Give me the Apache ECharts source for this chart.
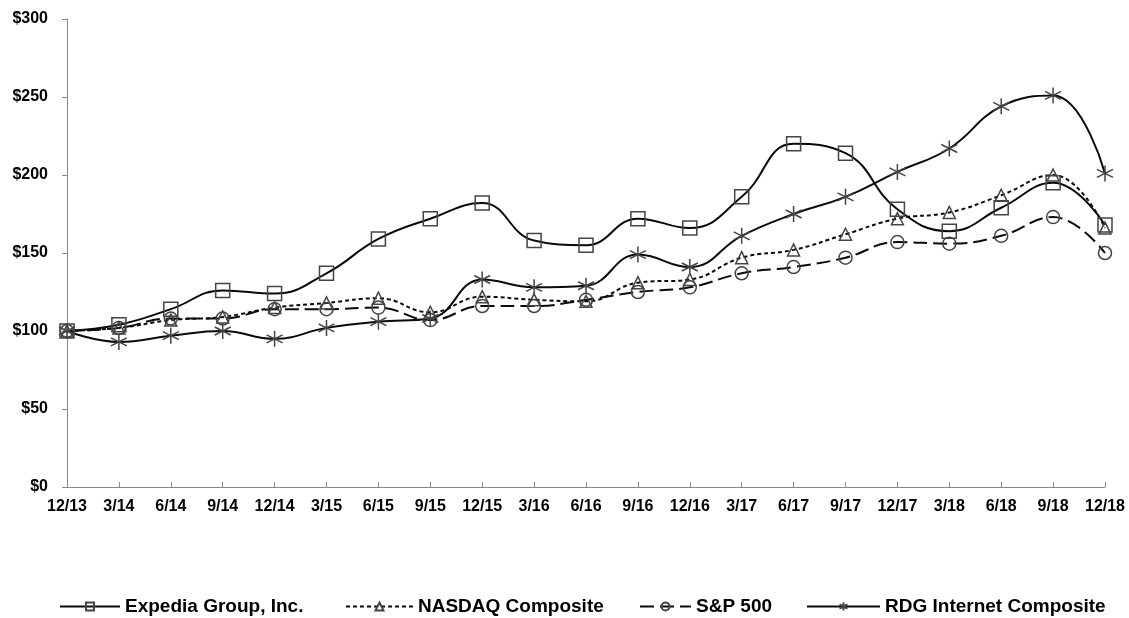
<!DOCTYPE html>
<html>
<head>
<meta charset="utf-8">
<script src="https://cdn.jsdelivr.net/npm/echarts@6/dist/echarts.min.js"></script>
<style>
html,body{margin:0;padding:0;background:#fff;}
#chart{width:1129px;height:618px;}
</style>
</head>
<body>
<div id="chart"></div>
<script>
const categories = ['12/13','3/14','6/14','9/14','12/14','3/15','6/15','9/15','12/15','3/16','6/16','9/16','12/16','3/17','6/17','9/17','12/17','3/18','6/18','9/18','12/18'];
const expedia = [100,104,114,126,124,137,159,172,182,158,155,172,166,186,220,214,178,164,179,195,168];
const nasdaq  = [100,102,107,109,115,118,121,112,122,120,119,131,133,147,152,162,172,176,187,200,166];
const sp500   = [100,102,108,108,114,114,115,107,116,116,120,125,128,137,141,147,157,156,161,173,150];
const rdg     = [100,93,97,100,95,102,106,108,133,128,129,149,141,161,175,186,202,217,244,251,201];
const yTicks = [0,50,100,150,200,250,300];

const FONT = 'Liberation Sans, Arial, sans-serif';
const LINE = '#0a0a0a';
const MARK = '#444';
const starPath = 'path://M5,0L5,10M0.67,2.5L9.33,7.5M0.67,7.5L9.33,2.5';

function mk(name, data, symbol, size, dash){
  return {
    name: name, type: 'line', data: data, smooth: 0.45,
    symbol: symbol, symbolSize: size, showSymbol: true,
    lineStyle: {color: LINE, width: 2, type: dash},
    itemStyle: {color: 'rgba(0,0,0,0)', borderColor: MARK, borderWidth: 1.5},
    emphasis: {disabled: true},
    animation: false
  };
}

const legendText = {fontSize: 19, fontWeight: 'bold', fontFamily: FONT, color: '#000'};
function lg(name, left, w){
  return {data: [name], left: left, top: 592, itemWidth: w, itemHeight: 10,
          textStyle: legendText, selectedMode: false};
}

const chart = echarts.init(document.getElementById('chart'));
chart.setOption({
  backgroundColor: '#fff',
  animation: false,
  grid: {left: 67, right: 24, top: 19, bottom: 131, containLabel: false},
  legend: [
    lg('Expedia Group, Inc.', 54, 60),
    lg('NASDAQ Composite', 340, 67),
    lg('S&P 500', 634, 51),
    lg('RDG Internet Composite', 801, 73)
  ],
  xAxis: {
    type: 'category', data: categories, boundaryGap: false,
    axisLine: {lineStyle: {color: '#888', width: 1}},
    axisTick: {inside: true, length: 5, lineStyle: {color: '#888'}},
    axisLabel: {fontSize: 16, fontWeight: 'bold', fontFamily: FONT, color: '#000', margin: 12, interval: 0},
    splitLine: {show: false}
  },
  yAxis: {
    type: 'value', min: yTicks[0], max: yTicks[yTicks.length-1], interval: 50,
    axisLine: {show: true, lineStyle: {color: '#888', width: 1}},
    axisTick: {show: true, length: 5, lineStyle: {color: '#888'}},
    axisLabel: {fontSize: 16, fontWeight: 'bold', fontFamily: FONT, color: '#000', margin: 19,
                formatter: v => '$' + v},
    splitLine: {show: false}
  },
  series: [
    mk('Expedia Group, Inc.', expedia, 'rect', 14, 'solid'),
    mk('NASDAQ Composite', nasdaq, 'triangle', 12, [4,3]),
    mk('S&P 500', sp500, 'circle', 13, [14,6]),
    mk('RDG Internet Composite', rdg, starPath, 16, 'solid')
  ]
});
</script>
</body>
</html>
